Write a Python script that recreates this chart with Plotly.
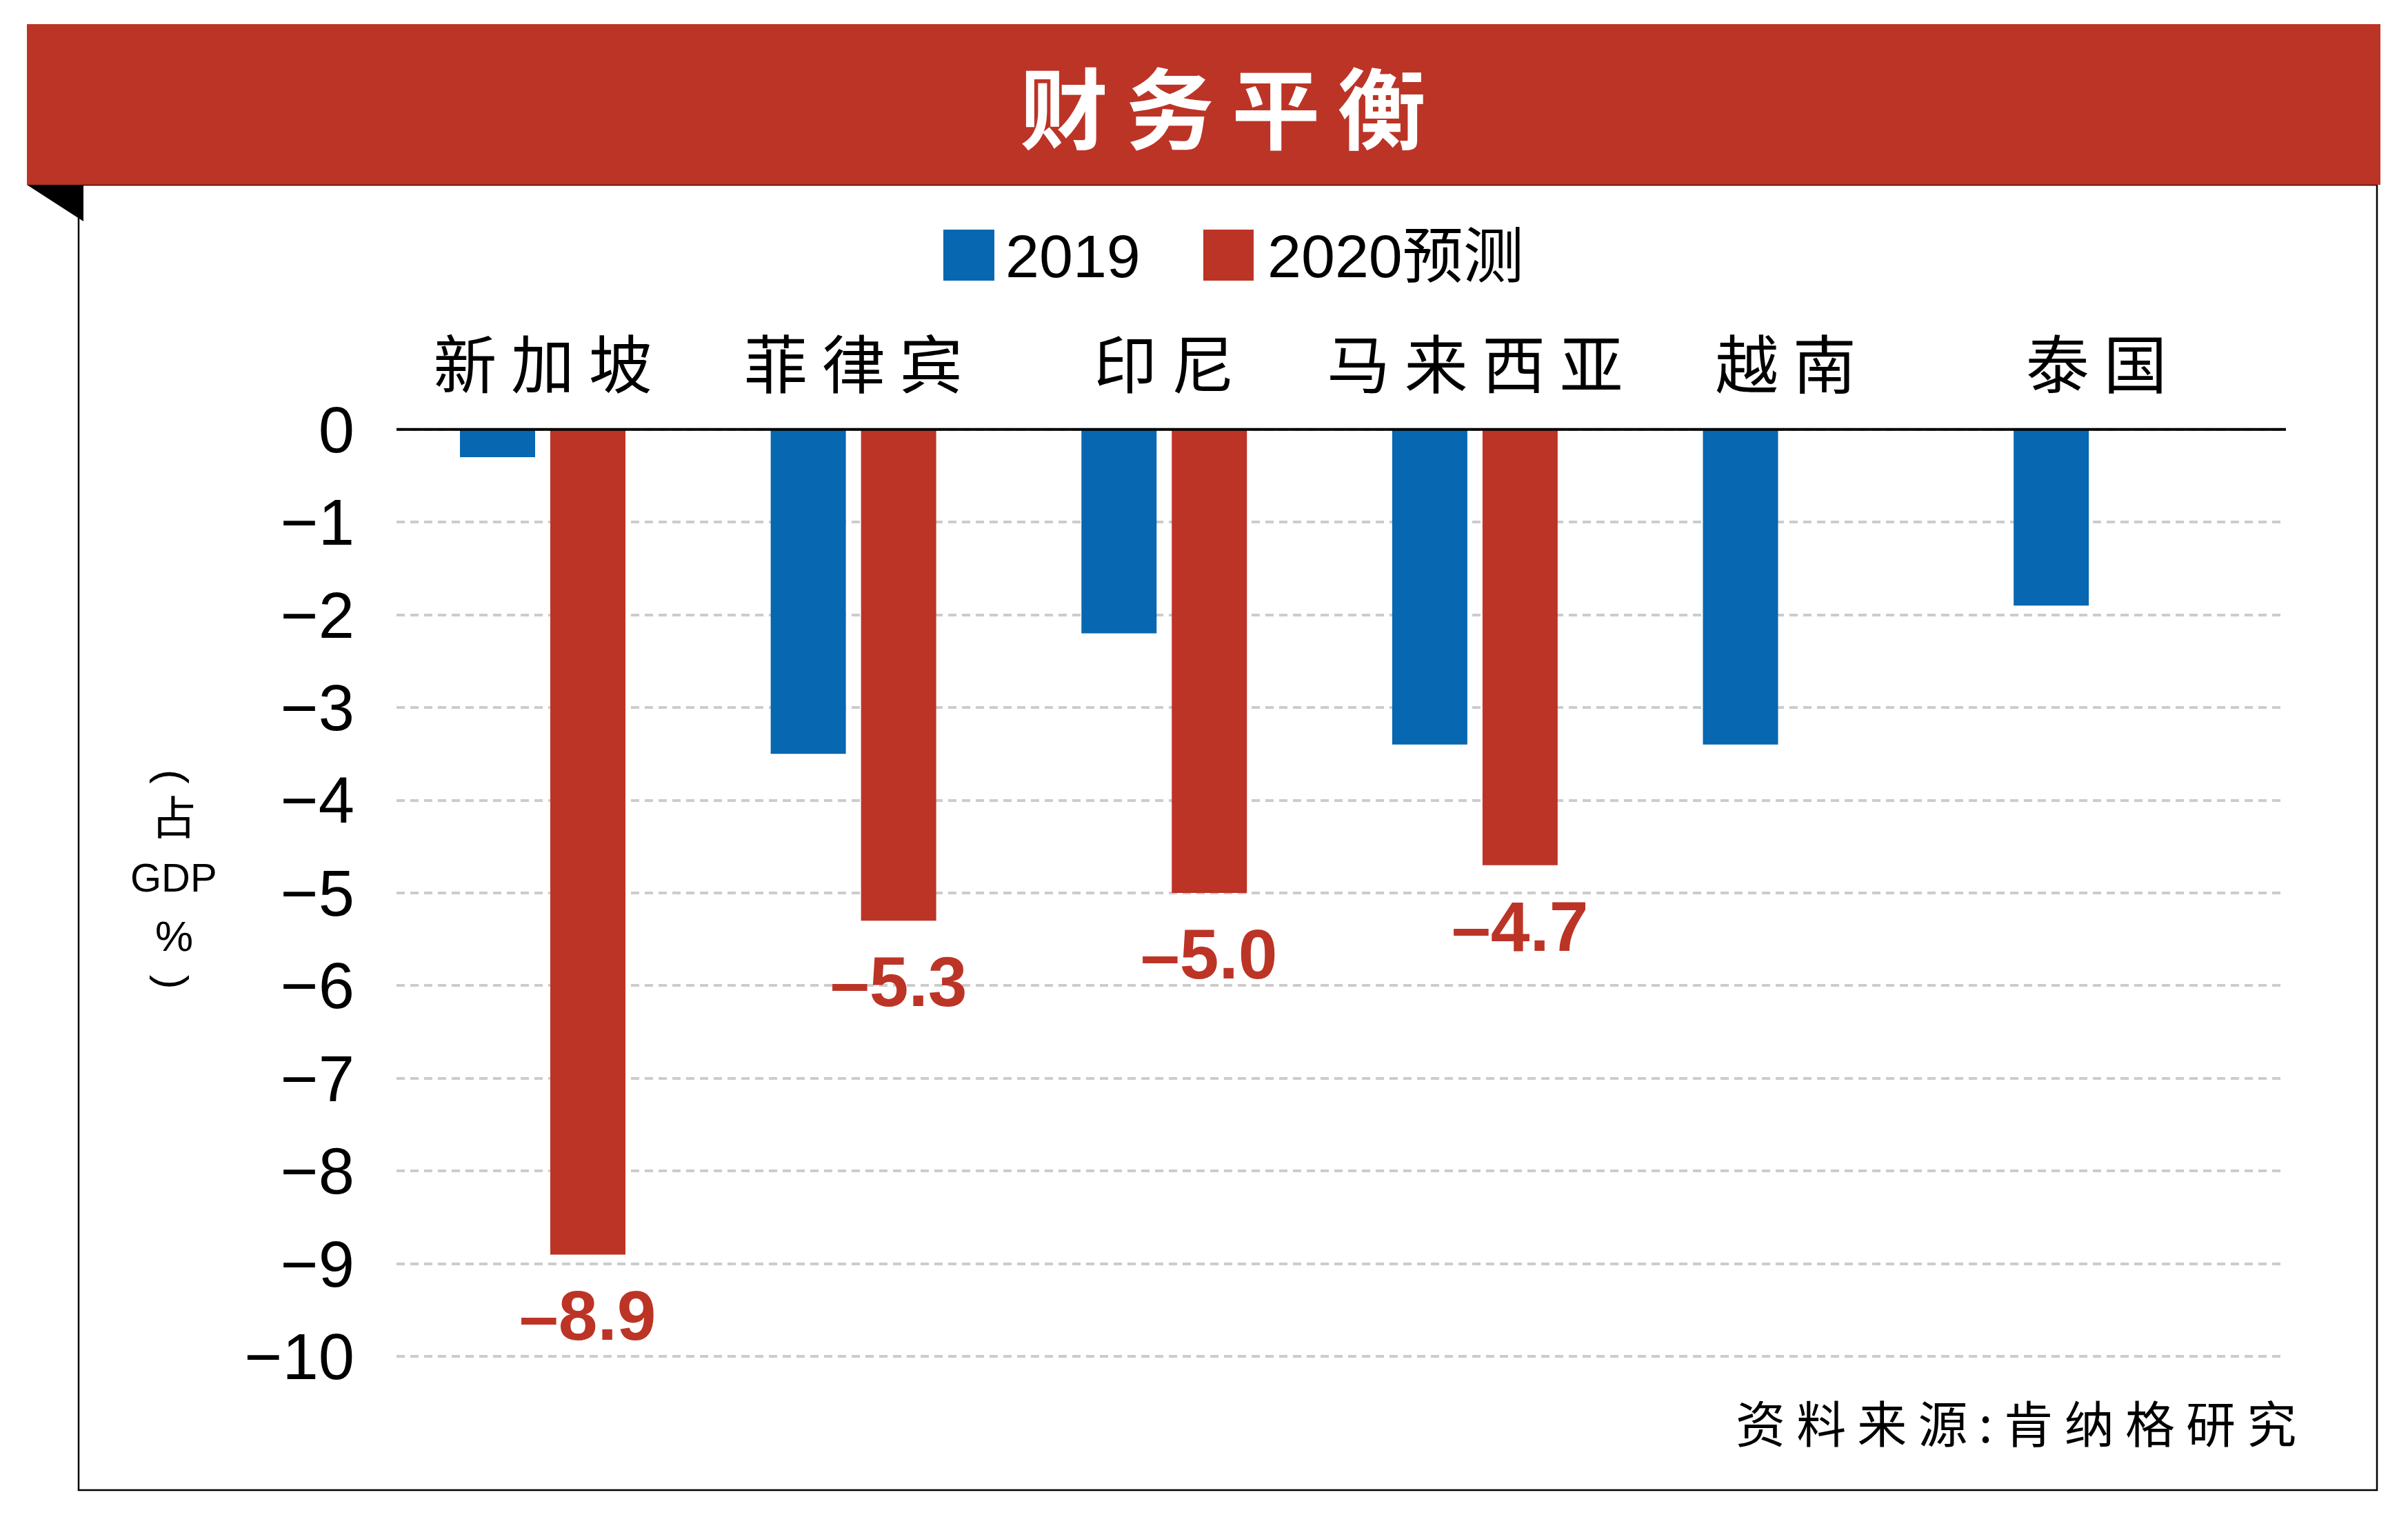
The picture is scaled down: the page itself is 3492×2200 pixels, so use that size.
import plotly.graph_objects as go

# ---------------- data ----------------
categories = ["新加坡", "菲律宾", "印尼", "马来西亚", "越南", "泰国"]
values_2019 = [-0.3, -3.5, -2.2, -3.4, -3.4, -1.9]
values_2020 = [-8.9, -5.3, -5.0, -4.7, None, None]
series_names = ["2019", "2020预测"]
y_ticks = [0, -1, -2, -3, -4, -5, -6, -7, -8, -9, -10]
title_text = "财务平衡"
source_text = "资料来源:肯纳格研究"

# ---------------- style ----------------
BLUE = "#0767B1"
RED = "#BC3426"
W, H = 3492, 2200
L, R, T, B = 575, 177, 616, 226
PW, PH = W - L - R, H - T - B
LAT = "Liberation Sans, Arial, Helvetica, Noto Sans CJK SC, sans-serif"
NARROW = "Liberation Sans Narrow, Arial Narrow, " + LAT
CJK = "Noto Sans CJK SC, sans-serif"
BARGAP = 0.4186
BARGROUPGAP = 0.168


def px(x):
    return (x - L) / PW


def py(y):
    return (H - B - y) / PH


fig = go.Figure()
fig.add_trace(go.Bar(x=categories, y=values_2019, name=series_names[0],
                     marker=dict(color=BLUE, line=dict(width=0)), showlegend=False))
fig.add_trace(go.Bar(x=categories, y=values_2020, name=series_names[1],
                     marker=dict(color=RED, line=dict(width=0)), showlegend=False))

annotations = []
shapes = []

# value labels for 2020 bars (centered on the red bar of each group)
offset = (1 - BARGAP) / 4
for i, v in enumerate(values_2020):
    if v is None:
        continue
    annotations.append(dict(
        x=i + offset, y=v, xref="x", yref="y", showarrow=False,
        text="\u2013" + f"{abs(v):.1f}", yanchor="top", xanchor="center", yshift=-30,
        font=dict(family=LAT, size=102, color=RED, weight="bold")))

# frame
shapes.append(dict(type="rect", xref="paper", yref="paper",
                   x0=px(114), x1=px(3447), y0=py(2161), y1=py(268),
                   line=dict(color="black", width=2.5), fillcolor="rgba(0,0,0,0)", layer="below"))
# banner
shapes.append(dict(type="rect", xref="paper", yref="paper",
                   x0=px(39), x1=px(3452), y0=py(268), y1=py(35),
                   line=dict(width=0), fillcolor=RED, layer="above"))
# fold triangle
shapes.append(dict(type="path", xref="paper", yref="paper",
                   path=f"M {px(39)},{py(268)} L {px(121)},{py(268)} L {px(121)},{py(321)} Z",
                   line=dict(width=0), fillcolor="black", layer="above"))
# zero line
shapes.append(dict(type="line", xref="paper", yref="y", x0=0, x1=1, y0=0, y1=0,
                   line=dict(color="black", width=4), layer="above"))

# title
annotations.append(dict(x=px(1773), y=py(151), xref="paper", yref="paper", showarrow=False,
                        text="\u2009".join(title_text), xanchor="center", yanchor="middle",
                        font=dict(family=CJK, size=128, color="white", weight="bold")))

# legend
leg = [(1368, 1442, 1456, BLUE, series_names[0]), (1745, 1818, 1836, RED, series_names[1])]
for x0, x1, tx, col, name in leg:
    shapes.append(dict(type="rect", xref="paper", yref="paper",
                       x0=px(x0), x1=px(x1), y0=py(407), y1=py(333),
                       line=dict(width=0), fillcolor=col))
    annotations.append(dict(x=px(tx), y=py(371), xref="paper", yref="paper", showarrow=False,
                            text=name, xanchor="left", yanchor="middle",
                            font=dict(family=LAT, size=88, color="black")))

# y-axis title (vertical): parentheses rotated, text stacked
ytitle = [("(", 1126, NARROW, 62, 90), ("占", 1181, CJK, 66, 0),
          ("GDP", 1272, NARROW, 58, 0), ("%", 1357, NARROW, 62, 0),
          (")", 1424, NARROW, 62, 90)]
for txt, yc, fam, sz, ang in ytitle:
    annotations.append(dict(x=px(252), y=py(yc), xref="paper", yref="paper", showarrow=False,
                            text=txt, xanchor="center", yanchor="middle", textangle=ang,
                            font=dict(family=fam, size=sz, color="black")))

# source
annotations.append(dict(x=px(3332), y=py(2060), xref="paper", yref="paper", showarrow=False,
                        text=" ".join(source_text), xanchor="right", yanchor="middle",
                        font=dict(family=CJK, size=72, color="black")))

fig.update_layout(
    width=W, height=H,
    margin=dict(l=L, r=R, t=T, b=B, pad=0),
    paper_bgcolor="white", plot_bgcolor="white",
    barmode="group", bargap=BARGAP, bargroupgap=BARGROUPGAP,
    showlegend=False,
    annotations=annotations, shapes=shapes,
    xaxis=dict(side="top", type="category", range=[-0.4705, 5.610],
               tickvals=categories, ticktext=[" ".join(c) for c in categories],
               tickfont=dict(family=CJK, size=92, color="black"),
               showgrid=False, showline=False, zeroline=False, ticks="",
               ticklabelstandoff=34, fixedrange=True),
    yaxis=dict(range=[-10.05, 0.05], tickvals=y_ticks,
               tickfont=dict(family=LAT, size=94, color="black"),
               showgrid=True, gridcolor="#cccccc", gridwidth=4, griddash="12px,8px",
               zeroline=False, showline=False, ticks="", ticklabelstandoff=60,
               fixedrange=True),
)

fig.write_html("out.html")
